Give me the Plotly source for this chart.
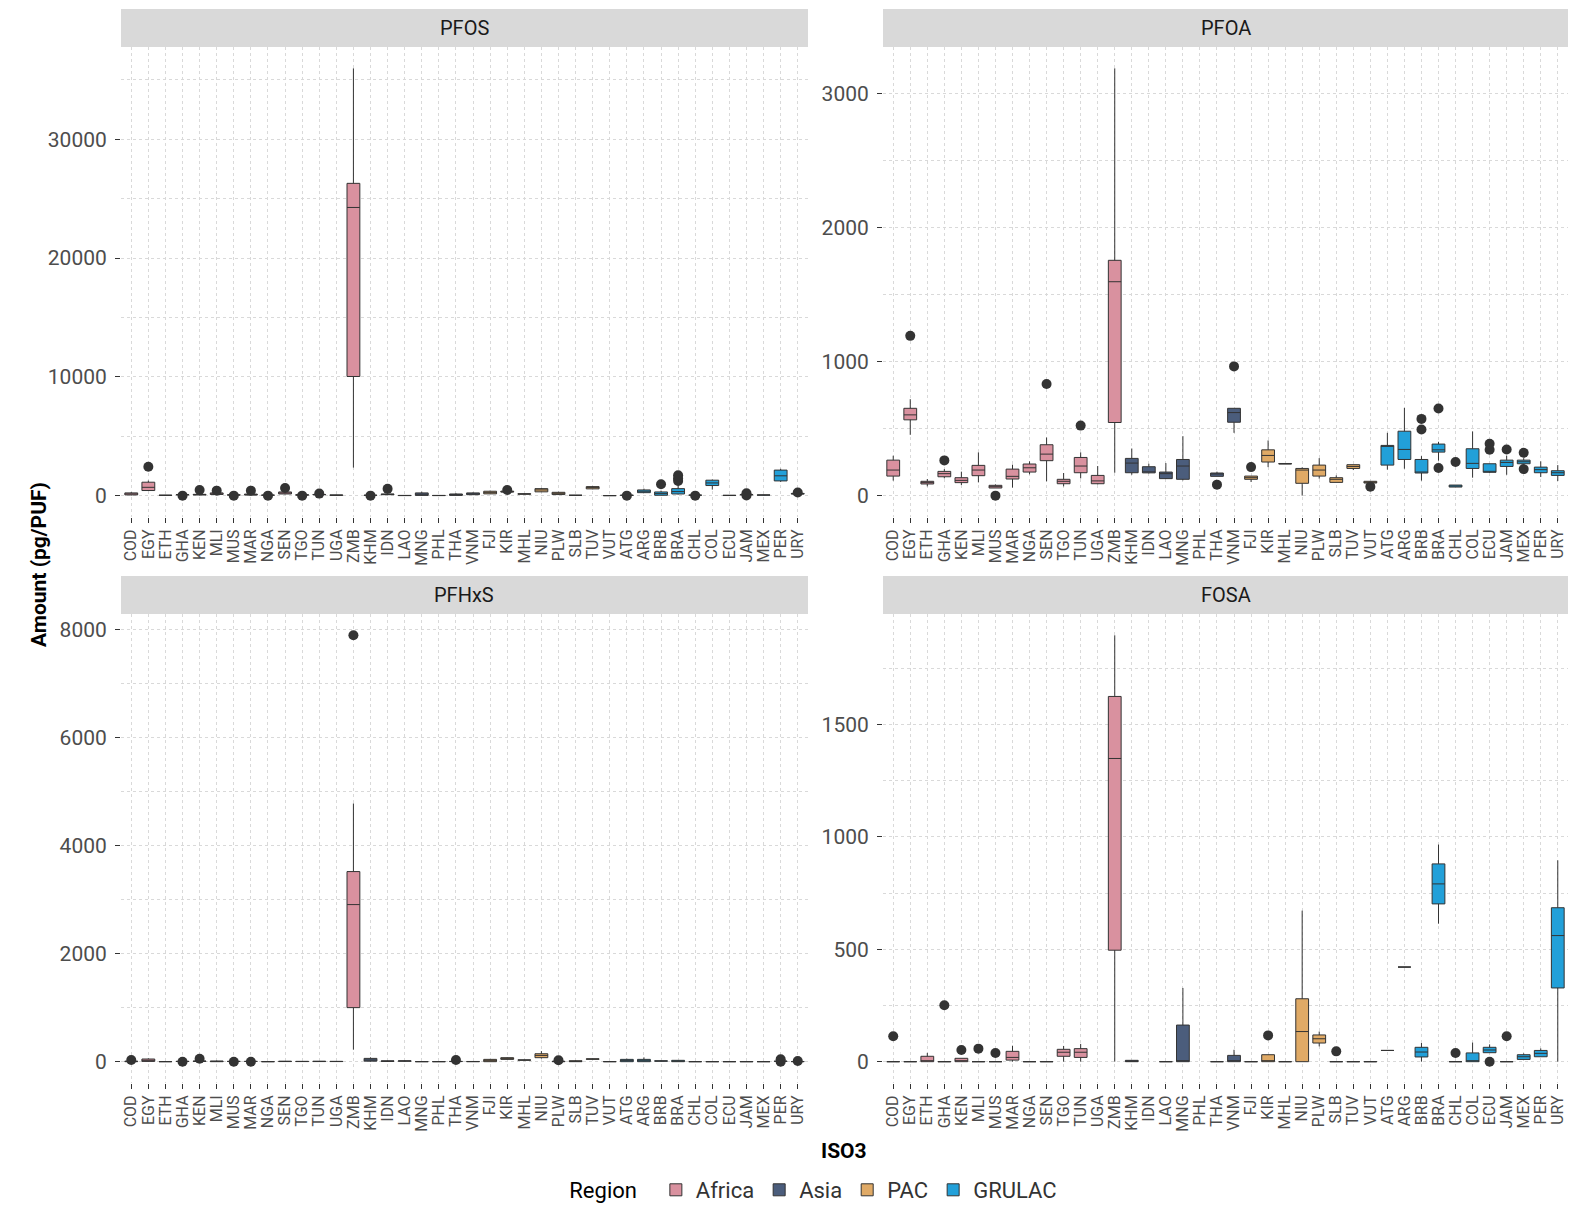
import plotly.graph_objects as go

COUNTRIES = ["COD", "EGY", "ETH", "GHA", "KEN", "MLI", "MUS", "MAR", "NGA", "SEN",
             "TGO", "TUN", "UGA", "ZMB",
             "KHM", "IDN", "LAO", "MNG", "PHL", "THA", "VNM",
             "FJI", "KIR", "MHL", "NIU", "PLW", "SLB", "TUV", "VUT",
             "ATG", "ARG", "BRB", "BRA", "CHL", "COL", "ECU", "JAM", "MEX", "PER", "URY"]
REGION_OF = ["Africa"] * 14 + ["Asia"] * 7 + ["PAC"] * 8 + ["GRULAC"] * 11
REGIONS = ["Africa", "Asia", "PAC", "GRULAC"]
REGION_COLORS = ["#D9919F", "#4B5D7C", "#E0AA66", "#22A0D9"]

# box stats per country, same order as COUNTRIES: (lower whisker, q1, median, q3, upper whisker)
PFOS_BOX = [
    (20, 60, 150, 230, 300), (420, 430, 700, 1130, 1270), (10, 20, 30, 40, 60),
    (60, 70, 80, 90, 110), (30, 60, 80, 110, 150), (60, 100, 150, 230, 280),
    (20, 40, 60, 70, 90), (20, 50, 80, 130, 160), (20, 30, 40, 50, 60),
    (100, 140, 220, 310, 380), (30, 40, 60, 80, 100), (60, 80, 90, 100, 110),
    (10, 20, 40, 60, 80), (2360, 10030, 24260, 26290, 35970),
    (10, 20, 30, 40, 60), (50, 80, 110, 140, 200), (0, 5, 10, 20, 30),
    (0, 20, 120, 230, 330), (0, 5, 10, 20, 30), (0, 20, 80, 140, 200),
    (50, 80, 150, 230, 280),
    (130, 150, 250, 370, 420), (280, 300, 330, 380, 400), (100, 120, 140, 160, 180),
    (300, 320, 480, 590, 650), (60, 90, 200, 280, 320), (10, 20, 30, 40, 50),
    (540, 570, 680, 760, 800), (0, 0, 0, 5, 10),
    (10, 20, 30, 40, 50), (230, 250, 370, 480, 590), (20, 30, 170, 310, 420),
    (100, 140, 340, 590, 900), (20, 30, 40, 50, 60), (510, 850, 1070, 1300, 1350),
    (0, 10, 20, 30, 40), (60, 70, 80, 100, 120), (30, 40, 50, 60, 70),
    (1160, 1240, 1670, 2150, 2260), (100, 130, 160, 190, 220),
]
PFOS_OUT = [("EGY", 2430), ("GHA", 0), ("KEN", 480), ("MLI", 420), ("MUS", 0),
            ("MAR", 420), ("NGA", 0), ("SEN", 650), ("TGO", 0), ("TUN", 170),
            ("KHM", 0), ("IDN", 570), ("KIR", 480), ("ATG", 0), ("BRB", 960),
            ("BRA", 1240), ("BRA", 1440), ("BRA", 1720), ("CHL", 0), ("JAM", 20),
            ("JAM", 200), ("URY", 260)]
PFOS_TICKS = [0, 10000, 20000, 30000]

PFOA_BOX = [
    (112, 146, 191, 265, 298), (454, 566, 603, 652, 720), (69, 87, 97, 107, 124),
    (129, 141, 164, 181, 198), (79, 97, 114, 134, 179), (99, 149, 191, 226, 323),
    (57, 57, 67, 77, 84), (60, 124, 144, 198, 231), (159, 176, 208, 236, 256),
    (107, 261, 310, 380, 434), (69, 89, 107, 122, 169), (129, 171, 221, 285, 323),
    (84, 89, 110, 151, 221), (171, 546, 1597, 1757, 3190),
    (156, 171, 243, 278, 352), (166, 170, 174, 216, 238), (124, 127, 164, 176, 243),
    (114, 122, 221, 270, 444), None, (144, 144, 164, 169, 179),
    (469, 548, 620, 652, 652),
    (102, 122, 134, 146, 146), (213, 251, 300, 342, 412), (236, 236, 238, 240, 240),
    (0, 92, 191, 203, 211), (127, 146, 191, 228, 280), (99, 99, 122, 134, 151),
    (191, 203, 218, 231, 231), (94, 94, 100, 107, 107),
    (194, 228, 375, 375, 469), (201, 270, 345, 481, 655), (112, 169, 176, 270, 295),
    (261, 325, 342, 385, 402), (64, 64, 72, 79, 79), (134, 203, 241, 350, 479),
    (169, 174, 178, 238, 238), (156, 218, 248, 265, 298), (238, 238, 253, 265, 280),
    (139, 171, 194, 213, 256), (109, 151, 171, 186, 228),
]
PFOA_OUT = [("EGY", 1193), ("GHA", 263), ("MUS", 0), ("SEN", 834), ("TUN", 523),
            ("THA", 82), ("VNM", 965), ("FJI", 213), ("VUT", 67), ("BRB", 494),
            ("BRB", 573), ("BRA", 206), ("BRA", 650), ("CHL", 251), ("ECU", 342),
            ("ECU", 387), ("JAM", 345), ("MEX", 198), ("MEX", 320)]
PFOA_TICKS = [0, 1000, 2000, 3000]

PFHXS_BOX = [
    (0, 0, 5, 10, 15), (0, 5, 25, 49, 60), (0, 0, 0, 2, 4),
    (3, 4, 5, 6, 8), (0, 5, 8, 12, 20), (0, 0, 5, 12, 20),
    (3, 4, 5, 6, 8), (3, 4, 5, 6, 8), (0, 0, 0, 2, 4),
    (0, 2, 5, 8, 12), (0, 2, 4, 6, 10), (0, 2, 5, 8, 12),
    (0, 2, 4, 6, 10), (222, 1000, 2907, 3518, 4778),
    (0, 10, 30, 61, 80), (0, 5, 10, 15, 20), (5, 10, 12, 15, 20),
    (0, 0, 0, 2, 4), (0, 0, 0, 2, 4), (0, 2, 4, 6, 10),
    (0, 0, 2, 4, 6),
    (0, 0, 18, 43, 50), (40, 43, 55, 74, 80), (25, 28, 30, 32, 35),
    (60, 74, 116, 147, 196), (0, 0, 3, 8, 12), (0, 0, 5, 18, 25),
    (40, 45, 49, 52, 55), (0, 0, 0, 2, 4),
    (0, 0, 20, 43, 55), (0, 0, 15, 43, 80), (5, 10, 12, 15, 20),
    (0, 0, 10, 25, 30), (0, 0, 0, 1, 2), (0, 0, 0, 1, 2),
    (0, 0, 0, 1, 2), (0, 0, 0, 1, 2), (0, 0, 0, 1, 2),
    (3, 5, 8, 10, 12), (0, 0, 2, 4, 6),
]
PFHXS_OUT = [("COD", 30), ("GHA", 0), ("KEN", 55), ("MUS", 0), ("MAR", 0),
             ("ZMB", 7890), ("THA", 30), ("PLW", 25), ("PER", 0), ("PER", 45),
             ("URY", 12)]
PFHXS_TICKS = [0, 2000, 4000, 6000, 8000]

FOSA_BOX = [
    (0, 0, 0, 0, 0), (0, 0, 0, 0, 0), (0, 0, 3, 24, 39),
    (0, 0, 0, 0, 0), (0, 0, 2, 15, 15), (0, 0, 0, 0, 0),
    (0, 0, 0, 0, 0), (0, 7, 19, 46, 71), (0, 0, 0, 0, 0),
    (0, 0, 0, 0, 0), (0, 24, 42, 55, 70), (0, 19, 42, 58, 79),
    None, (0, 496, 1349, 1625, 1897),
    (0, 0, 2, 6, 6), None, (0, 0, 0, 0, 0),
    (0, 0, 0, 163, 328), None, (0, 0, 0, 0, 0),
    (0, 0, 2, 28, 53),
    (0, 0, 0, 0, 0), (0, 0, 0, 31, 31), (0, 0, 0, 0, 0),
    (0, 0, 134, 280, 672), (68, 83, 102, 119, 134), (0, 0, 0, 0, 0),
    (0, 0, 0, 0, 0), (0, 0, 0, 0, 0),
    (50, 50, 50, 50, 50), (421, 421, 421, 421, 421), (0, 21, 43, 64, 83),
    (614, 702, 791, 880, 966), (0, 0, 0, 0, 0), (0, 0, 3, 39, 85),
    (40, 40, 52, 64, 77), (0, 0, 0, 0, 0), (10, 10, 22, 31, 37),
    (22, 22, 37, 50, 59), (0, 328, 561, 685, 896),
]
FOSA_OUT = [("COD", 113), ("GHA", 251), ("KEN", 52), ("MLI", 58), ("MUS", 39),
            ("KIR", 117), ("SLB", 46), ("CHL", 39), ("ECU", 0), ("JAM", 113)]
FOSA_TICKS = [0, 500, 1000, 1500]

PANELS = [
    ("PFOS", PFOS_BOX, PFOS_OUT, PFOS_TICKS),
    ("PFOA", PFOA_BOX, PFOA_OUT, PFOA_TICKS),
    ("PFHxS", PFHXS_BOX, PFHXS_OUT, PFHXS_TICKS),
    ("FOSA", FOSA_BOX, FOSA_OUT, FOSA_TICKS),
]

W, H = 1573, 1209
X_DOMAINS = [[121 / W, 808 / W], [883 / W, 1568 / W]]
Y_DOMAINS = [[1 - 517 / H, 1 - 47 / H], [1 - 1083 / H, 1 - 614 / H]]
STRIP_H = 38 / H

FONT = "Roboto"
GRID = "#d9d9d9"

fig = go.Figure()
layout_axes = {}
annotations = []
shapes = []

for i, (name, boxes, outliers, ticks) in enumerate(PANELS):
    row, col = divmod(i, 2)
    s = "" if i == 0 else str(i + 1)

    for region, color in zip(REGIONS, REGION_COLORS):
        idx = [k for k, r in enumerate(REGION_OF) if r == region and boxes[k] is not None]
        fig.add_trace(go.Box(
            x=[COUNTRIES[k] for k in idx],
            lowerfence=[boxes[k][0] for k in idx],
            q1=[boxes[k][1] for k in idx],
            median=[boxes[k][2] for k in idx],
            q3=[boxes[k][3] for k in idx],
            upperfence=[boxes[k][4] for k in idx],
            name=region,
            legendgroup=region,
            showlegend=(i == 0),
            fillcolor=color,
            line=dict(color="#333333", width=1),
            whiskerwidth=0,
            width=0.75,
            boxpoints=False,
            xaxis="x" + s,
            yaxis="y" + s,
        ))

    fig.add_trace(go.Scatter(
        x=[c for c, v in outliers],
        y=[v for c, v in outliers],
        mode="markers",
        marker=dict(color="#333333", size=10),
        showlegend=False,
        xaxis="x" + s,
        yaxis="y" + s,
    ))

    vals = [v for b in boxes if b is not None for v in b] + [v for c, v in outliers]
    lo, hi = min(vals), max(vals)
    pad = (hi - lo) * 0.05
    step = ticks[1] - ticks[0]
    minor = [t + step / 2 for t in ticks]

    layout_axes["xaxis" + s] = dict(
        domain=X_DOMAINS[col], anchor="y" + s, automargin=False,
        type="category", categoryorder="array", categoryarray=COUNTRIES,
        range=[-0.6, len(COUNTRIES) - 0.4],
        tickmode="array", tickvals=COUNTRIES, ticktext=COUNTRIES,
        tickangle=-90, tickfont=dict(family=FONT, size=16, color="#4d4d4d"),
        ticks="outside", ticklen=5, tickcolor="#333333",
        showgrid=True, gridcolor=GRID, griddash="dot", gridwidth=1,
        showline=False, zeroline=False,
    )
    layout_axes["yaxis" + s] = dict(
        domain=Y_DOMAINS[row], anchor="x" + s, automargin=False,
        range=[lo - pad, hi + pad],
        tickvals=ticks, tickformat="d",
        tickfont=dict(family=FONT, size=21, color="#4d4d4d"),
        ticks="outside", ticklen=5, tickcolor="#333333", ticklabelstandoff=4,
        showgrid=True, gridcolor=GRID, griddash="dot", gridwidth=1,
        minor=dict(tickvals=minor, showgrid=True, gridcolor=GRID, griddash="dot", ticks=""),
        showline=False, zeroline=False,
    )

    # facet strip
    y1 = Y_DOMAINS[row][1]
    shapes.append(dict(type="rect", xref="paper", yref="paper",
                       x0=X_DOMAINS[col][0], x1=X_DOMAINS[col][1],
                       y0=y1, y1=y1 + STRIP_H,
                       fillcolor="#d9d9d9", line=dict(width=0), layer="below"))
    annotations.append(dict(text=name, xref="paper", yref="paper",
                            x=sum(X_DOMAINS[col]) / 2, y=y1 + STRIP_H / 2,
                            showarrow=False, xanchor="center", yanchor="middle",
                            font=dict(family=FONT, size=20, color="#1a1a1a")))

annotations.append(dict(text="<b>Amount (pg/PUF)</b>", xref="paper", yref="paper",
                        x=25 / W, y=(Y_DOMAINS[0][1] + Y_DOMAINS[1][0]) / 2,
                        textangle=-90, showarrow=False,
                        font=dict(family=FONT, size=21, color="#000000")))
annotations.append(dict(text="<b>ISO3</b>", xref="paper", yref="paper",
                        x=(X_DOMAINS[0][0] + X_DOMAINS[1][1]) / 2, y=1 - 1151 / H,
                        showarrow=False, yanchor="middle",
                        font=dict(family=FONT, size=21, color="#000000")))

fig.update_layout(
    width=W, height=H,
    margin=dict(l=0, r=0, t=0, b=0, autoexpand=False),
    paper_bgcolor="white", plot_bgcolor="white",
    boxmode="overlay",
    font=dict(family=FONT),
    legend=dict(orientation="h", x=0.518, xanchor="center",
                y=1 - 1190 / H, yanchor="middle",
                title=dict(text="Region  ", font=dict(family=FONT, size=22, color="#000000")),
                font=dict(family=FONT, size=22, color="#333333")),
    annotations=annotations,
    shapes=shapes,
    **layout_axes,
)

fig.write_html("out.html", config={"displayModeBar": False},
               post_script="document.body.style.margin='0';")
